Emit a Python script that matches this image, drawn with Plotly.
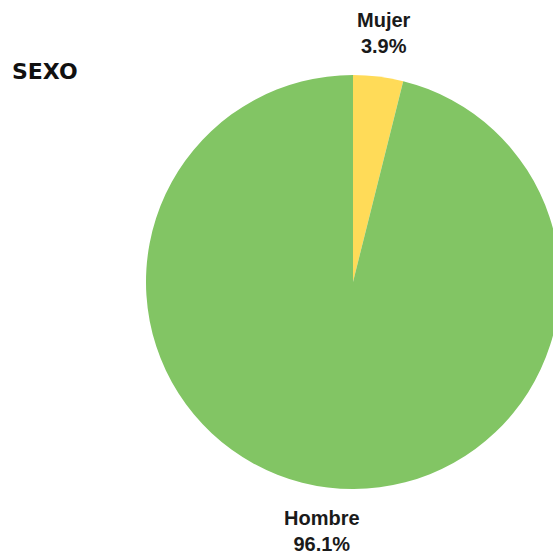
import math
import plotly.graph_objects as go

# Distribution by sex
labels = ["Mujer", "Hombre"]
values = [3.9, 96.1]
colors = ["#FFDB58", "#82C564"]

W, H = 567, 554
cx, cy, r = 353, 282, 207  # pie centre / radius in px (from top-left)
label_r = r + 44           # distance of slice labels from the centre

fig = go.Figure(
    go.Pie(
        labels=labels,
        values=values,
        marker=dict(colors=colors, line=dict(width=0)),
        sort=False,
        direction="clockwise",
        rotation=0,
        textinfo="none",
        hoverinfo="label+percent",
        showlegend=False,
        domain=dict(
            x=[(cx - r) / W, (cx + r) / W],
            y=[(H - cy - r) / H, (H - cy + r) / H],
        ),
    )
)

# Slice labels placed outside, along each slice's mid-angle
total = sum(values)
annotations = []
cum = 0.0
for lab, val in zip(labels, values):
    mid = (cum + val / 2) / total * 2 * math.pi  # clockwise from 12 o'clock
    cum += val
    px = cx + label_r * math.sin(mid)
    py = cy - label_r * math.cos(mid)
    annotations.append(dict(
        text=f"{lab}<br>{val / total * 100:.1f}%",
        xref="paper", yref="paper",
        x=px / W, y=1 - py / H,
        xanchor="center", yanchor="middle",
        showarrow=False,
        font=dict(family="Liberation Sans, Arial, sans-serif", size=20,
                  color="#1a1a1a", weight="bold"),
    ))

annotations.append(dict(
    text="SEXO",
    xref="paper", yref="paper",
    x=10 / W, y=1 - 72 / H,
    xanchor="left", yanchor="middle",
    showarrow=False,
    font=dict(family="DejaVu Sans, sans-serif", size=22,
              color="#111111", weight="bold"),
))

fig.update_layout(
    width=W,
    height=H,
    margin=dict(l=0, r=0, t=0, b=0),
    paper_bgcolor="white",
    plot_bgcolor="white",
    annotations=annotations,
)

fig.write_html(
    "out.html",
    post_script="document.documentElement.style.overflow='hidden';"
                "document.body.style.overflow='hidden';document.body.style.margin='0';",
)
